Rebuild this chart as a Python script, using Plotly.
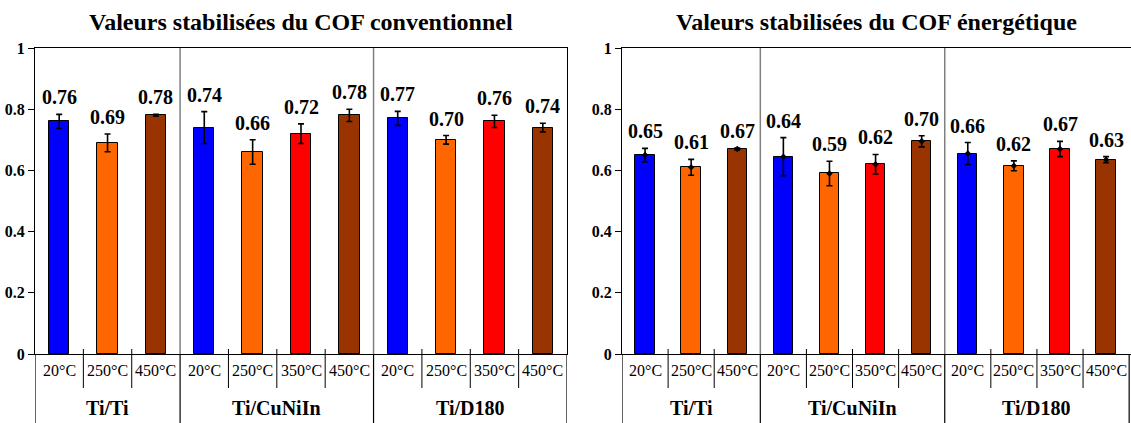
import plotly.graph_objects as go

# DATA
groups = ["Ti/Ti", "Ti/CuNiIn", "Ti/D180"]
temps = [
    ["20°C", "250°C", "450°C"],
    ["20°C", "250°C", "350°C", "450°C"],
    ["20°C", "250°C", "350°C", "450°C"],
]
temp_colors = {"20°C": "#0000FF", "250°C": "#FF6600", "350°C": "#FF0000", "450°C": "#993300"}

cof_conv = [0.76, 0.69, 0.78, 0.74, 0.66, 0.72, 0.78, 0.77, 0.70, 0.76, 0.74]
cof_conv_err = [0.023, 0.029, 0.003, 0.052, 0.040, 0.032, 0.020, 0.023, 0.014, 0.020, 0.014]

cof_ener = [0.65, 0.61, 0.67, 0.645, 0.59, 0.62, 0.695, 0.655, 0.615, 0.67, 0.635]
cof_ener_err = [0.022, 0.026, 0.003, 0.062, 0.040, 0.032, 0.018, 0.036, 0.016, 0.025, 0.010]
cof_ener_labels = ["0.65", "0.61", "0.67", "0.64", "0.59", "0.62", "0.70", "0.66", "0.62", "0.67", "0.63"]

y_ticks = [0, 0.2, 0.4, 0.6, 0.8, 1]
y_ticktext = ["0", "0.2", "0.4", "0.6", "0.8", "1"]

titles = ["Valeurs stabilisées du COF conventionnel", "Valeurs stabilisées du COF énergétique"]

# layout helpers
W, H = 1131, 423
FONT = "'Liberation Serif', 'Times New Roman', Times, serif"
y_bot = (H - 354) / H
y_top = (H - 48) / H

cats = [t for grp in temps for t in grp]
pos = list(range(len(cats)))
colors = [temp_colors[t] for t in cats]

# group boundaries in category units
bounds = [-0.5]
for grp in temps:
    bounds.append(bounds[-1] + len(grp))
centers = [(bounds[i] + bounds[i + 1]) / 2 for i in range(len(groups))]

fig = go.Figure()

# left chart: bars with error bars
fig.add_trace(go.Bar(
    x=pos, y=cof_conv, width=0.42,
    marker=dict(color=colors, line=dict(color="black", width=1)),
    error_y=dict(type="data", array=cof_conv_err, color="black", thickness=1.6, width=3),
    xaxis="x", yaxis="y", showlegend=False, hoverinfo="y",
))

# right chart: bars + error markers
fig.add_trace(go.Bar(
    x=pos, y=cof_ener, width=0.42,
    marker=dict(color=colors, line=dict(color="black", width=1)),
    xaxis="x2", yaxis="y2", showlegend=False, hoverinfo="y",
))
fig.add_trace(go.Scatter(
    x=pos, y=cof_ener, mode="markers",
    marker=dict(symbol="diamond", size=5, color="black"),
    error_y=dict(type="data", array=cof_ener_err, color="black", thickness=1.6, width=3),
    xaxis="x2", yaxis="y2", showlegend=False, hoverinfo="skip",
))

shapes = []
annotations = []

conv_labels = [f"{v:.2f}" for v in cof_conv]
panels = [
    ("x", "y", 35 / W, 567 / W, [-0.5, 10.5], cof_conv, cof_conv_err, conv_labels, titles[0]),
    ("x2", "y2", 622 / W, 1.0, [-0.5, 10.54], cof_ener, cof_ener_err, cof_ener_labels, titles[1]),
]

for xr, yr, d0, d1, xrange, vals, errs, labels, title in panels:
    # value labels
    for p, v, e, lab in zip(pos, vals, errs, labels):
        annotations.append(dict(
            x=p, y=v + e, xref=xr, yref=yr, text=f"<b>{lab}</b>",
            showarrow=False, yanchor="bottom", yshift=4,
            font=dict(family=FONT, size=20, color="black"),
        ))
    # category labels and separators below axis
    for p, t in zip(pos, cats):
        annotations.append(dict(
            x=p, y=(H - 370) / H, xref=xr, yref="paper", text=t,
            showarrow=False, yanchor="middle",
            font=dict(family=FONT, size=16, color="black"),
        ))
    for p in pos[:-1]:
        b = p + 0.5
        if b in bounds:
            continue
        shapes.append(dict(type="line", xref=xr, yref="paper", x0=b, x1=b,
                           y0=(H - 349) / H, y1=(H - 388) / H,
                           line=dict(color="black", width=1)))
    # group separators
    for b in bounds:
        shapes.append(dict(type="line", xref=xr, yref="paper", x0=b, x1=b,
                           y0=0, y1=y_bot, line=dict(color="black", width=1.2)))
    for b in bounds[1:-1]:
        shapes.append(dict(type="line", xref=xr, yref="paper", x0=b, x1=b,
                           y0=y_bot, y1=y_top, line=dict(color="#808080", width=1.5)))
    for c, g in zip(centers, groups):
        annotations.append(dict(
            x=c, y=(H - 408) / H, xref=xr, yref="paper", text=f"<b>{g}</b>",
            showarrow=False, yanchor="middle",
            font=dict(family=FONT, size=20, color="black"),
        ))
    # title
    annotations.append(dict(
        x=(d0 + d1) / 2, y=(H - 22) / H, xref="paper", yref="paper", text=f"<b>{title}</b>",
        showarrow=False, yanchor="middle", xanchor="center",
        font=dict(family=FONT, size=24, color="black"),
    ))

axis_x = dict(showticklabels=False, ticks="", showgrid=False, zeroline=False, automargin=False,
              showline=True, linecolor="black", linewidth=1.2, mirror=True, fixedrange=True)
axis_y = dict(range=[0, 1], tickvals=y_ticks, ticktext=[f"<b>{t}</b>" for t in y_ticktext],
              ticks="outside", ticklen=6, tickcolor="black", showgrid=False, zeroline=False,
              showline=True, linecolor="black", linewidth=1.2, mirror=True, automargin=False,
              tickfont=dict(family=FONT, size=16, color="black"),
              domain=[y_bot, y_top], fixedrange=True)

fig.update_layout(
    template="none",
    width=W, height=H,
    margin=dict(l=0, r=0, t=0, b=0, pad=0, autoexpand=False),
    paper_bgcolor="white", plot_bgcolor="white",
    font=dict(family=FONT),
    xaxis={**axis_x, "range": panels[0][4], "domain": [panels[0][2], panels[0][3]], "anchor": "y"},
    yaxis={**axis_y, "anchor": "x"},
    xaxis2={**axis_x, "range": panels[1][4], "domain": [panels[1][2], panels[1][3]], "anchor": "y2"},
    yaxis2={**axis_y, "anchor": "x2"},
    shapes=shapes,
    annotations=annotations,
    bargap=0,
)

fig.write_html("out.html", config={"displayModeBar": False},
               post_script="document.body.style.margin='0';")
